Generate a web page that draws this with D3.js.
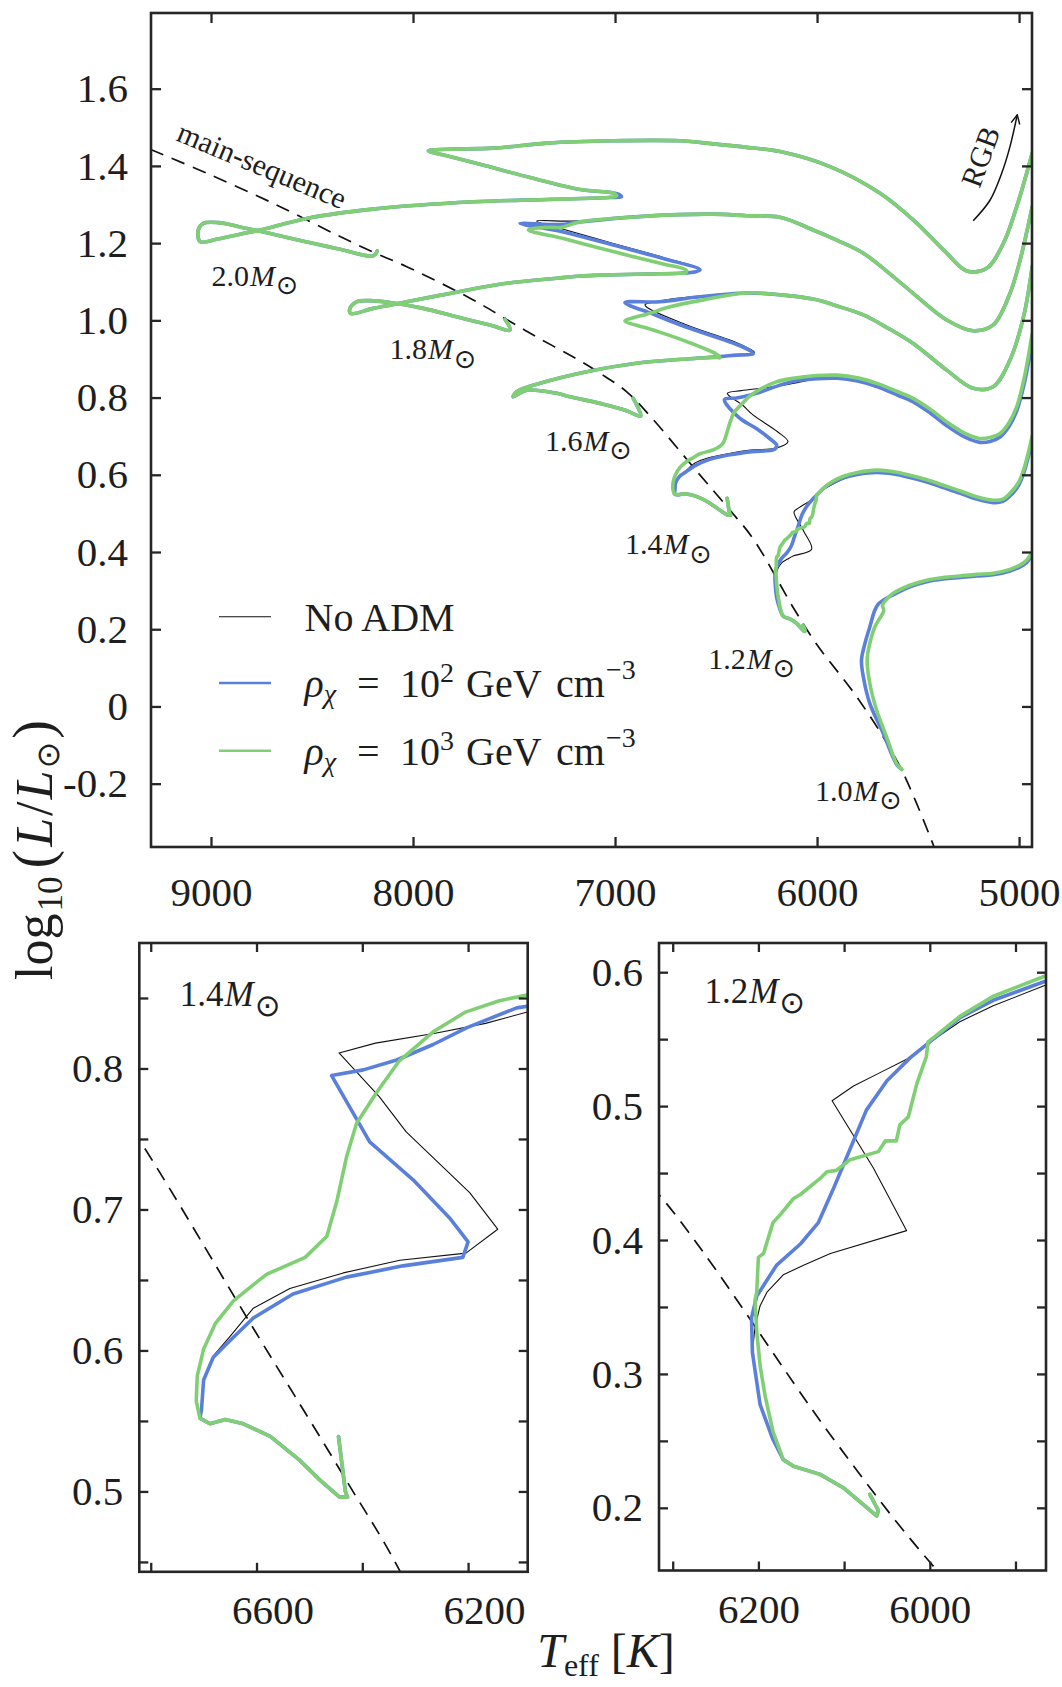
<!DOCTYPE html>
<html>
<head>
<meta charset="utf-8">
<script src="https://cdn.jsdelivr.net/npm/d3@7"></script>
<style>
  body { margin: 0; background: #fff; }
  svg text { font-family: "Liberation Serif", "Times New Roman", serif; fill: #1e1e1e; }
</style>
</head>
<body>
<svg id="fig" width="1062" height="1687"></svg>
<script>
// ---------- ticks ----------
const tempTicksTop = [9000, 8000, 7000, 6000, 5000];
const lumTicksTop = [-0.2, 0, 0.2, 0.4, 0.6, 0.8, 1.0, 1.2, 1.4, 1.6];
const tempTicksL = [6800, 6600, 6400, 6200];
const tempLabelsL = [6600, 6200];
const lumTicksL = [0.45, 0.5, 0.55, 0.6, 0.65, 0.7, 0.75, 0.8, 0.85];
const lumLabelsL = [0.5, 0.6, 0.7, 0.8];
const tempTicksR = [6300, 6200, 6100, 6000, 5900];
const tempLabelsR = [6200, 6000];
const lumTicksR = [0.2, 0.25, 0.3, 0.35, 0.4, 0.45, 0.5, 0.55, 0.6];
const lumLabelsR = [0.2, 0.3, 0.4, 0.5, 0.6];

// ---------- main sequence (dashed) [Teff, log L] ----------
const zams = [[9300,1.443],[9021,1.381],[8692,1.303],[8361,1.217],[8190,1.175],[8031,1.139],[7702,1.053],[7530,1.000],[7371,0.952],[7200,0.903],[7074,0.863],[6942,0.815],[6821,0.749],[6600,0.612],[6437,0.512],[6316,0.434],[6112,0.251],[6002,0.161],[5790,0.015],[5590,-0.155],[5420,-0.365]];

// ---------- 2.0 Msun ----------
const m20_start = [[8177,1.180],[8197,1.167],[8361,1.184],[8526,1.203],[8692,1.223],[8856,1.242],[8964,1.253],[9038,1.251],[9063,1.234],[9054,1.204],[8972,1.210],[8856,1.223],[8757,1.234],[8526,1.264],[8197,1.288],[7702,1.307],[7338,1.313]];
const m20_tip_g = [[7025,1.319],[6992,1.322],[7005,1.329]];
const m20_tip_b = [[7020,1.318],[6968,1.320],[6990,1.328]];
const m20_end = [[7173,1.339],[7421,1.370],[7668,1.404],[7833,1.426],[7924,1.439],[7833,1.443],[7603,1.446],[7338,1.459],[7009,1.465],[6678,1.465],[6514,1.457],[6348,1.448],[6183,1.437],[5936,1.398],[5688,1.329],[5524,1.260],[5358,1.174],[5259,1.128],[5160,1.135],[5078,1.199],[5012,1.294],[4935,1.433]];

// ---------- 1.8 Msun ----------
const m18_start = [[7545,1.003],[7520,0.975],[7619,0.988],[7784,1.009],[7949,1.031],[8114,1.046],[8213,1.051],[8279,1.048],[8312,1.031],[8309,1.018],[8197,1.031],[8031,1.048],[7784,1.073],[7536,1.096],[7289,1.109],[7173,1.115],[7074,1.117],[6843,1.120],[6678,1.122]];
const m18_tip_g = [[6650,1.123],[6648,1.130],[6761,1.146],[7009,1.178],[7256,1.212],[7429,1.234],[7338,1.241],[7264,1.241],[7173,1.255]];
const m18_tip_b = [[6600,1.126],[6579,1.131],[6761,1.160],[7009,1.195],[7256,1.229],[7470,1.251],[7272,1.248],[7173,1.255]];
const m18_tip_k = [[6600,1.126],[6582,1.133],[6761,1.163],[7009,1.199],[7256,1.236],[7388,1.257],[7250,1.257],[7173,1.258]];
const m18_end = [[6843,1.270],[6514,1.275],[6348,1.271],[6183,1.267],[6019,1.234],[5900,1.207],[5771,1.174],[5650,1.125],[5524,1.070],[5358,1.001],[5227,0.973],[5128,0.988],[5045,1.070],[4995,1.156],[4935,1.294]];

// ---------- 1.6 Msun ----------
const m16_start = [[6910,0.798],[6873,0.752],[6942,0.766],[7058,0.783],[7223,0.802],[7289,0.811],[7437,0.819],[7504,0.802],[7487,0.815],[7371,0.837],[7140,0.867],[6893,0.889],[6645,0.900]];
const m16_tip_g = [[6497,0.904],[6480,0.903],[6500,0.913],[6645,0.945],[6811,0.975],[6951,0.999],[6901,1.008],[6843,1.016],[6728,1.035],[6563,1.053]];
const m16_tip_b = [[6480,0.906],[6400,0.910],[6316,0.913],[6330,0.921],[6415,0.941],[6645,0.982],[6811,1.016],[6951,1.046],[6778,1.048],[6600,1.060]];
const m16_tip_k = [[6480,0.906],[6400,0.911],[6310,0.917],[6330,0.925],[6415,0.946],[6645,0.988],[6852,1.040],[6778,1.050],[6600,1.062]];
const m16_end = [[6348,1.071],[6180,1.066],[6019,1.055],[5900,1.037],[5771,1.014],[5650,0.980],[5524,0.940],[5358,0.871],[5227,0.824],[5128,0.828],[5045,0.897],[4978,1.009],[4935,1.139]];

// ---------- 1.4 Msun ----------
const m14_start = [[6445,0.539],[6432,0.500],[6428,0.496],[6443,0.496],[6480,0.508],[6518,0.522],[6574,0.539],[6625,0.548],[6659,0.551],[6688,0.548],[6707,0.552]];
const m14_hook_g = [[6714,0.564],[6712,0.582],[6700,0.601],[6678,0.619],[6644,0.635],[6618,0.643],[6581,0.654],[6508,0.666],[6467,0.681],[6448,0.706],[6430,0.737],[6411,0.761],[6373,0.783],[6331,0.805],[6266,0.826],[6205,0.840],[6141,0.848],[6091,0.852]];
const m14_hook_b = [[6704,0.558],[6700,0.579],[6682,0.595],[6650,0.607],[6606,0.623],[6531,0.640],[6430,0.652],[6323,0.660],[6210,0.666],[6200,0.677],[6235,0.694],[6304,0.721],[6386,0.748],[6458,0.795],[6398,0.799],[6335,0.806],[6266,0.817],[6202,0.829],[6108,0.843]];
const m14_hook_k = [[6704,0.558],[6700,0.579],[6682,0.596],[6650,0.610],[6606,0.630],[6537,0.644],[6436,0.655],[6329,0.664],[6204,0.669],[6144,0.686],[6197,0.712],[6317,0.755],[6368,0.780],[6444,0.811],[6375,0.818],[6262,0.825],[6167,0.832],[6088,0.840]];
const m14_rgb_g = [[6000,0.857],[5900,0.858],[5800,0.851],[5700,0.836],[5600,0.815],[5524,0.798],[5440,0.770],[5358,0.737],[5270,0.708],[5193,0.694],[5140,0.697],[5094,0.707],[5050,0.735],[5012,0.776],[4975,0.850],[4935,0.966]];
const m14_rgb_b = [[6000,0.849],[5900,0.850],[5800,0.843],[5700,0.828],[5600,0.806],[5524,0.789],[5440,0.760],[5358,0.727],[5270,0.698],[5193,0.684],[5140,0.687],[5094,0.698],[5050,0.725],[5012,0.765],[4975,0.835],[4935,0.945]];

// ---------- 1.2 Msun ----------
const m12_start = [[6070,0.210],[6060,0.198],[6062,0.194],[6101,0.215],[6128,0.225],[6159,0.231],[6171,0.236]];
const m12_hook_g = [[6183,0.257],[6192,0.283],[6198,0.306],[6202,0.332],[6204,0.355],[6202,0.361],[6200,0.387],[6194,0.390],[6183,0.413],[6173,0.420],[6159,0.431],[6151,0.434],[6128,0.446],[6120,0.451],[6109,0.452],[6093,0.460],[6060,0.466],[6052,0.474],[6039,0.474],[6035,0.486],[6025,0.492],[6015,0.517],[6004,0.537],[6002,0.548],[5996,0.551],[5965,0.567],[5926,0.582],[5866,0.597]];
const m12_hook_b = [[6183,0.251],[6198,0.277],[6207,0.316],[6208,0.342],[6202,0.358],[6179,0.381],[6151,0.397],[6130,0.413],[6112,0.439],[6093,0.468],[6074,0.497],[6050,0.519],[6023,0.536],[6000,0.548],[5965,0.566],[5926,0.579],[5866,0.593]];
const m12_hook_k = [[6183,0.251],[6198,0.277],[6207,0.316],[6204,0.335],[6198,0.351],[6190,0.361],[6171,0.374],[6148,0.381],[6116,0.390],[6027,0.407],[6066,0.454],[6114,0.504],[6089,0.515],[6058,0.525],[6027,0.535],[6004,0.546],[5965,0.563],[5926,0.575],[5866,0.590]];
const m12_rgb_g = [[5800,0.606],[5705,0.612],[5620,0.608],[5540,0.599],[5460,0.588],[5375,0.573],[5290,0.558],[5210,0.543],[5128,0.534],[5080,0.537],[5045,0.552],[5005,0.578],[4978,0.612],[4955,0.655],[4935,0.700]];
const m12_rgb_b = [[5800,0.601],[5705,0.606],[5620,0.602],[5540,0.593],[5460,0.582],[5375,0.567],[5290,0.552],[5210,0.537],[5128,0.528],[5080,0.531],[5045,0.545],[5005,0.570],[4978,0.603],[4955,0.645],[4935,0.688]];

// ---------- 1.0 Msun ----------
const m10_g = [[5581,-0.163],[5606,-0.148],[5656,-0.079],[5705,-0.010],[5739,0.060],[5752,0.120],[5739,0.163],[5714,0.206],[5690,0.228],[5670,0.248],[5676,0.262],[5660,0.275],[5623,0.293],[5540,0.314],[5457,0.327],[5375,0.334],[5292,0.338],[5210,0.342],[5128,0.345],[5045,0.355],[4990,0.368],[4962,0.379],[4937,0.398]];
const m10_b = [[5581,-0.163],[5606,-0.150],[5672,-0.070],[5739,0.008],[5771,0.077],[5780,0.120],[5763,0.163],[5739,0.206],[5714,0.249],[5697,0.265],[5660,0.279],[5623,0.289],[5540,0.310],[5457,0.323],[5375,0.330],[5292,0.334],[5210,0.338],[5128,0.341],[5045,0.351],[4990,0.363],[4962,0.373],[4937,0.392]];

// ---------- labels ----------
const massNames = ["2.0", "1.8", "1.6", "1.4", "1.2", "1.0"];
const massLabelPos = [[8997,1.089],[8117,0.899],[7347,0.662],[6951,0.394],[6538,0.098],[6010,-0.245]];
const rgbArrow = [[5227,1.258],[5144,1.311],[5086,1.381],[5045,1.450],[5009,1.532]];
const legendNames = ["No ADM", "2", "3"];

// ---------- build series ----------
const tracks = [
  { noadm: m20_start.concat(m20_tip_b, m20_end), low: m20_start.concat(m20_tip_b, m20_end), high: m20_start.concat(m20_tip_g, m20_end) },
  { noadm: m18_start.concat(m18_tip_k, m18_end), low: m18_start.concat(m18_tip_b, m18_end), high: m18_start.concat(m18_tip_g, m18_end) },
  { noadm: m16_start.concat(m16_tip_k, m16_end), low: m16_start.concat(m16_tip_b, m16_end), high: m16_start.concat(m16_tip_g, m16_end) },
  { noadm: m14_start.concat(m14_hook_k, m14_rgb_b), low: m14_start.concat(m14_hook_b, m14_rgb_b), high: m14_start.concat(m14_hook_g, m14_rgb_g) },
  { noadm: m12_start.concat(m12_hook_k, m12_rgb_b), low: m12_start.concat(m12_hook_b, m12_rgb_b), high: m12_start.concat(m12_hook_g, m12_rgb_g) },
  { noadm: m10_b, low: m10_b, high: m10_g }
];

const svg = d3.select("#fig");
const ink = "#262626";
const serif = "Liberation Serif, Times New Roman, serif";
const colors = { noadm: "#111111", low: "#5b80dc", high: "#80cf74" };
const widths = { noadm: 1.1, low: 3.6, high: 3.6 };

// scales
const xTop = d3.scaleLinear().domain([9297, 4936]).range([151, 1032]);
const yTop = d3.scaleLinear().domain([-0.364, 1.796]).range([847, 13]);
const xL = d3.scaleLinear().domain([6821.6, 6087.3]).range([139.3, 527.7]);
const yL = d3.scaleLinear().domain([0.443, 0.889]).range([1571.8, 943]);
const xR = d3.scaleLinear().domain([6316, 5864.4]).range([659, 1046]);
const yR = d3.scaleLinear().domain([0.1532, 0.6218]).range([1570.5, 943]);

const defs = svg.append("defs");
function clip(id, x, y) {
  defs.append("clipPath").attr("id", id).append("rect")
    .attr("x", x.range()[0]).attr("y", y.range()[1])
    .attr("width", x.range()[1] - x.range()[0])
    .attr("height", y.range()[0] - y.range()[1]);
}
clip("cTop", xTop, yTop);
clip("cL", xL, yL);
clip("cR", xR, yR);

defs.append("marker").attr("id", "arrow").attr("viewBox", "0 0 10 10")
  .attr("refX", 9).attr("refY", 5).attr("markerWidth", 11).attr("markerHeight", 11)
  .attr("markerUnits", "userSpaceOnUse").attr("orient", "auto")
  .append("path").attr("d", "M1,1 L9,5 L1,9").attr("fill", "none")
  .attr("stroke", "#111").attr("stroke-width", 1.3);

const has = (arr, d) => arr.some(v => Math.abs(v - d) < 1e-9);

function axes(x, y, o) {
  const g = svg.append("g").attr("color", ink);
  const [x0, x1] = x.range(), [yb, yt] = y.range();
  const b = g.append("g").attr("transform", `translate(0,${yb})`)
    .call(d3.axisBottom(x).tickValues(o.xt).tickSizeInner(-o.tl).tickSizeOuter(0)
      .tickPadding(o.xpad).tickFormat(d => has(o.xl, d) ? d : ""));
  b.selectAll("text").attr("dx", o.xdx || 0);
  g.append("g").attr("transform", `translate(0,${yt})`)
    .call(d3.axisTop(x).tickValues(o.xt).tickSizeInner(-o.tl).tickSizeOuter(0).tickFormat(() => ""));
  g.append("g").attr("transform", `translate(${x0},0)`)
    .call(d3.axisLeft(y).tickValues(o.yt).tickSizeInner(-o.tl).tickSizeOuter(0)
      .tickPadding(o.ypad).tickFormat(d => has(o.yl, d) ? (Math.abs(d) < 1e-9 ? "0" : d.toFixed(1)) : ""));
  g.append("g").attr("transform", `translate(${x1},0)`)
    .call(d3.axisRight(y).tickValues(o.yt).tickSizeInner(-o.tl).tickSizeOuter(0).tickFormat(() => ""));
  g.selectAll(".domain").remove();
  g.selectAll(".tick line").attr("stroke-width", 2.3);
  g.selectAll(".tick text").attr("fill", "#1e1e1e")
    .attr("font-size", 41).attr("font-family", serif);
  g.append("rect").attr("x", x0).attr("y", yt).attr("width", x1 - x0).attr("height", yb - yt)
    .attr("fill", "none").attr("stroke", ink).attr("stroke-width", 2.6);
}

function panelLines(x, y, clipId, series, curve) {
  const line = d3.line().x(d => x(d[0])).y(d => y(d[1])).curve(curve);
  const g = svg.append("g").attr("clip-path", `url(#${clipId})`);
  g.append("path").datum(zams).attr("d", line.curve(d3.curveCatmullRom.alpha(0.5))).attr("fill", "none")
    .attr("stroke", "#111").attr("stroke-width", 1.7).attr("stroke-dasharray", "14,9");
  line.curve(curve);
  ["noadm", "low", "high"].forEach(k => {
    series.forEach(s => {
      g.append("path").datum(s[k]).attr("d", line).attr("fill", "none")
        .attr("stroke", colors[k]).attr("stroke-width", widths[k])
        .attr("stroke-linejoin", "round").attr("stroke-linecap", "round");
    });
  });
}

function massLabel(px, py, name, size) {
  const t = svg.append("text").attr("x", px).attr("y", py).attr("font-size", size);
  t.append("tspan").text(name);
  t.append("tspan").attr("font-style", "italic").attr("dx", 1).text("M");
  t.append("tspan").attr("font-family", "DejaVu Sans").attr("font-size", size * 0.88)
    .attr("dx", 1).attr("dy", size * 0.28).text("\u2299");
}

// ---------- top panel ----------
panelLines(xTop, yTop, "cTop", tracks, d3.curveCatmullRom.alpha(0.5));
axes(xTop, yTop, { xt: tempTicksTop, xl: tempTicksTop, yt: lumTicksTop, yl: lumTicksTop, tl: 10, xpad: 30, ypad: 23 });

massNames.forEach((n, i) => massLabel(xTop(massLabelPos[i][0]), yTop(massLabelPos[i][1]), n, 30));

// main-sequence label
const msx = xTop(9178), msy = yTop(1.467);
svg.append("text").attr("transform", `translate(${msx},${msy}) rotate(22.7)`)
  .attr("font-size", 30).text("main-sequence");

// RGB arrow
const arrowLine = d3.line().x(d => xTop(d[0])).y(d => yTop(d[1])).curve(d3.curveCatmullRom.alpha(0.5));
svg.append("path").datum(rgbArrow).attr("d", arrowLine).attr("fill", "none")
  .attr("stroke", "#111").attr("stroke-width", 1.5).attr("marker-end", "url(#arrow)");
svg.append("text").attr("transform", `translate(${xTop(5193)},${yTop(1.424)}) rotate(-70)`)
  .attr("text-anchor", "middle").attr("dominant-baseline", "central").attr("font-size", 30).text("RGB");

// legend
const legendY = [616.7, 683, 750.7];
["noadm", "low", "high"].forEach((k, i) => {
  svg.append("line").attr("x1", 219).attr("x2", 271).attr("y1", legendY[i]).attr("y2", legendY[i])
    .attr("stroke", colors[k]).attr("stroke-width", k === "noadm" ? 1.1 : 2.6);
  const t = svg.append("text").attr("y", legendY[i] + 14).attr("font-size", 40);
  if (i === 0) {
    t.append("tspan").attr("x", 304.6).text(legendNames[0]);
  } else {
    t.append("tspan").attr("x", 304.6).attr("font-style", "italic").text("ρ");
    t.append("tspan").attr("font-style", "italic").attr("font-size", 28).attr("dy", 6).text("χ");
    t.append("tspan").attr("x", 357).attr("dy", -6).text("=");
    t.append("tspan").attr("x", 400).text("10");
    t.append("tspan").attr("font-size", 28).attr("dy", -15).text(legendNames[i]);
    t.append("tspan").attr("x", 466).attr("dy", 15).text("GeV");
    t.append("tspan").attr("x", 556).text("cm");
    t.append("tspan").attr("x", 606).attr("font-size", 28).attr("dy", -18).text("\u22123");
  }
});

// ---------- bottom-left inset (1.4) ----------
panelLines(xL, yL, "cL", [tracks[3]], d3.curveLinear);
axes(xL, yL, { xt: tempTicksL, xl: tempLabelsL, yt: lumTicksL, yl: lumLabelsL, tl: 9, xpad: 23, ypad: 16, xdx: 16 });
massLabel(xL(6745), yL(0.844), "1.4", 35);

// ---------- bottom-right inset (1.2) ----------
panelLines(xR, yR, "cR", [tracks[4]], d3.curveLinear);
axes(xR, yR, { xt: tempTicksR, xl: tempLabelsR, yt: lumTicksR, yl: lumLabelsR, tl: 9, xpad: 23, ypad: 16 });
massLabel(xR(6263), yR(0.577), "1.2", 35);

// ---------- axis titles ----------
const yl = svg.append("text").attr("transform", "translate(52,850) rotate(-90)")
  .attr("text-anchor", "middle").attr("font-size", 52);
yl.append("tspan").text("log");
yl.append("tspan").attr("font-size", 35).attr("dx", 2).attr("dy", 10).text("10");
yl.append("tspan").attr("font-size", 56).attr("dx", 8).attr("dy", -10).text("(");
yl.append("tspan").attr("font-style", "italic").attr("dx", 3).text("L");
yl.append("tspan").attr("dx", 2).text("/");
yl.append("tspan").attr("font-style", "italic").attr("dx", 2).text("L");
yl.append("tspan").attr("font-family", "DejaVu Sans").attr("font-size", 32).attr("dx", 2).attr("dy", 7).text("\u2299");
yl.append("tspan").attr("font-size", 56).attr("dx", 3).attr("dy", -7).text(")");

const xlab = svg.append("text").attr("x", 606).attr("y", 1667)
  .attr("text-anchor", "middle").attr("font-size", 48);
xlab.append("tspan").attr("font-style", "italic").text("T");
xlab.append("tspan").attr("font-size", 32).attr("dy", 9).text("eff");
xlab.append("tspan").attr("dy", -9).text(" [");
xlab.append("tspan").attr("font-style", "italic").text("K");
xlab.append("tspan").text("]");
</script>
</body>
</html>
